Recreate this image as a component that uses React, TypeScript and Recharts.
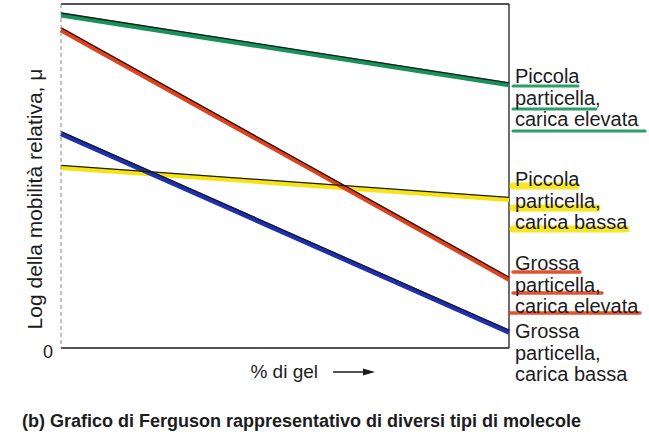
import { LineChart, Line, XAxis, YAxis, ReferenceLine, Label } from "recharts";

const gelPercent = [0, 10];
const smallHighCharge = [96.8, 76.5];
const largeHighCharge = [92.5, 20];
const largeLowCharge = [62.3, 4.6];
const smallLowCharge = [52.5, 43.2];

const seriesNames = ["smallHigh", "smallLow", "largeHigh", "largeLow"];
const seriesLabels = [
  ["Piccola", "particella,", "carica elevata"],
  ["Piccola", "particella,", "carica bassa"],
  ["Grossa", "particella,", "carica elevata"],
  ["Grossa", "particella,", "carica bassa"],
];

const yTicks = [0];
const yAxisTitle = "Log della mobilità relativa, μ";
const xAxisTitle = "% di gel";
const caption = "(b) Grafico di Ferguson rappresentativo di diversi tipi di molecole";

const data = gelPercent.map((x, i) => ({
  x,
  smallHigh: smallHighCharge[i],
  smallLow: smallLowCharge[i],
  largeHigh: largeHighCharge[i],
  largeLow: largeLowCharge[i],
}));

const FONT = "'Liberation Sans', Arial, sans-serif";
const INK = "#1c1c1c";

const colors: Record<string, string> = {
  smallHigh: "#17935a",
  smallLow: "#f6e40e",
  largeHigh: "#e2411b",
  largeLow: "#1d2fb5",
};

// where each label block sits, and how its marker strokes look
const labelBlocks = [
  { y: 83, under: [[513, 578, 86], [513, 596, 109], [513, 645, 131]], w: 3 },
  { y: 186, under: [[513, 576, 186], [513, 597, 208], [513, 626, 229]], w: 7 },
  { y: 270, under: [[513, 580, 272], [513, 602, 293], [510, 640, 313]], w: 3.5 },
  { y: 338, under: [], w: 0 },
];

const XTitle = () => {
  const y = 378;
  return (
    <g>
      <text x={318} y={y} fontSize={19} fill={INK} fontFamily={FONT} textAnchor="end">
        {xAxisTitle}
      </text>
      <line x1={333} y1={y - 6} x2={366} y2={y - 6} stroke={INK} strokeWidth={1.3} />
      <polygon points={`375,${y - 6} 363,${y - 9.5} 363,${y - 2.5}`} fill={INK} />
    </g>
  );
};

const YTitle = () => (
  <text
    x={34}
    y={199}
    transform="rotate(-90 34 199)"
    textAnchor="middle"
    dominantBaseline="central"
    fontSize={21}
    fill={INK}
    fontFamily={FONT}
  >
    {yAxisTitle}
  </text>
);

export default function App() {
  return (
    <div style={{ position: "absolute", left: 0, top: 0, width: 649, height: 443, background: "#fff" }}>
      <style>{`.ink .recharts-curve { transform: translateY(-2px); }`}</style>
      <LineChart width={649} height={443} data={data} margin={{ top: 4, right: 140, bottom: 94, left: 0 }}>
        <XAxis
          dataKey="x"
          type="number"
          domain={[0, 10]}
          ticks={[]}
          tickLine={false}
          axisLine={{ stroke: INK, strokeWidth: 1.5 }}
          height={1}
        >
          <Label content={<XTitle />} />
        </XAxis>
        <YAxis
          domain={[0, 100]}
          ticks={yTicks}
          width={61}
          tickLine={false}
          axisLine={{ stroke: "#888", strokeWidth: 1, strokeDasharray: "4 3" }}
          tick={{ fontSize: 18, fill: INK, fontFamily: FONT, dy: 4 }}
          tickMargin={2}
        >
          <Label content={<YTitle />} />
        </YAxis>
        <ReferenceLine y={100} stroke={INK} strokeWidth={1.5} />
        <ReferenceLine x={10} stroke={INK} strokeWidth={1.3} />
        {seriesNames.map((k) => (
          <Line
            key={k}
            dataKey={k}
            type="linear"
            stroke={colors[k]}
            strokeWidth={5}
            dot={false}
            isAnimationActive={false}
          />
        ))}
        {seriesNames.map((k) => (
          <Line
            key={k + "-ink"}
            className="ink"
            dataKey={k}
            type="linear"
            stroke={INK}
            strokeWidth={1.3}
            dot={false}
            isAnimationActive={false}
          />
        ))}
      </LineChart>
      <svg width={649} height={443} style={{ position: "absolute", left: 0, top: 0, pointerEvents: "none" }}>
        {labelBlocks.map((b, i) => (
          <g key={i}>
            {b.under.map((u, j) => (
              <line
                key={j}
                x1={u[0]}
                x2={u[1]}
                y1={u[2]}
                y2={u[2]}
                stroke={colors[seriesNames[i]]}
                strokeWidth={b.w}
                strokeLinecap="round"
                opacity={0.9}
              />
            ))}
            {seriesLabels[i].map((t, j) => (
              <text key={j} x={515} y={b.y + j * 21.5} fontSize={20} fill={INK} fontFamily={FONT}>
                {t}
              </text>
            ))}
          </g>
        ))}
        <text x={22} y={427} fontSize={18} fontWeight="bold" fill={INK} fontFamily={FONT}>
          {caption}
        </text>
      </svg>
    </div>
  );
}
